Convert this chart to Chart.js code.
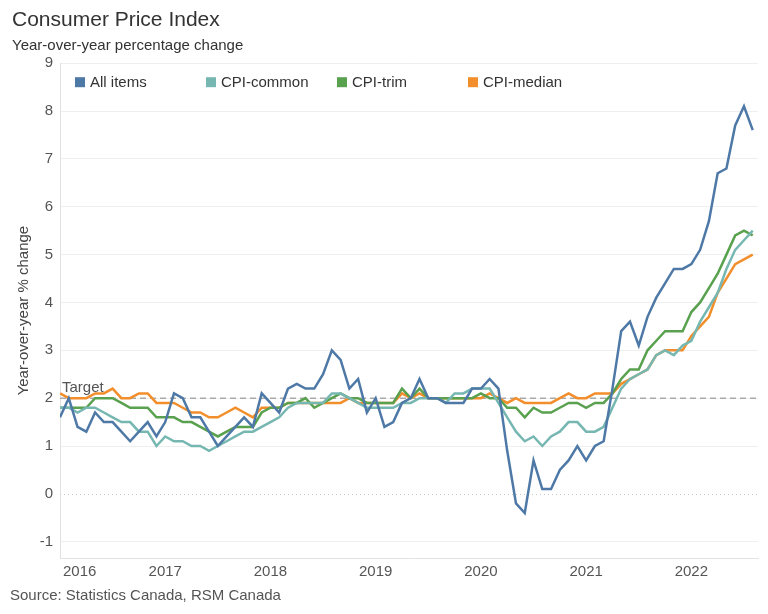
<!DOCTYPE html>
<html>
<head>
<meta charset="utf-8">
<script src="https://cdn.jsdelivr.net/npm/chart.js@4.4.0/dist/chart.umd.min.js"></script>
<style>
  body { margin: 0; background: #fff; }
  #wrap { width: 768px; height: 614px; }
</style>
</head>
<body>
<div id="wrap"><canvas id="cpiChart" width="768" height="614"></canvas></div>
<script>
// monthly, Dec 2015 .. Jul 2022
const startYear = 2015;
const startMonth = 12;
const yearLabels = ['2016', '2017', '2018', '2019', '2020', '2021', '2022'];
const yTicks = [-1, 0, 1, 2, 3, 4, 5, 6, 7, 8, 9];
const targetRate = 2;

const allItems = [1.6,
  2.0, 1.4, 1.3, 1.7, 1.5, 1.5, 1.3, 1.1, 1.3, 1.5, 1.2, 1.5,
  2.1, 2.0, 1.6, 1.6, 1.3, 1.0, 1.2, 1.4, 1.6, 1.4, 2.1, 1.9,
  1.7, 2.2, 2.3, 2.2, 2.2, 2.5, 3.0, 2.8, 2.2, 2.4, 1.7, 2.0,
  1.4, 1.5, 1.9, 2.0, 2.4, 2.0, 2.0, 1.9, 1.9, 1.9, 2.2, 2.2,
  2.4, 2.2, 0.9, -0.2, -0.4, 0.7, 0.1, 0.1, 0.5, 0.7, 1.0, 0.7,
  1.0, 1.1, 2.2, 3.4, 3.6, 3.1, 3.7, 4.1, 4.4, 4.7, 4.7, 4.8,
  5.1, 5.7, 6.7, 6.8, 7.7, 8.1, 7.6];

const cpiCommon = [1.8,
  1.8, 1.7, 1.8, 1.8, 1.7, 1.6, 1.5, 1.5, 1.3, 1.3, 1.0, 1.2,
  1.1, 1.1, 1.0, 1.0, 0.9, 1.0, 1.1, 1.2, 1.3, 1.3, 1.4, 1.5,
  1.6, 1.8, 1.9, 1.9, 1.9, 1.9, 2.1, 2.1, 2.0, 1.9, 1.8, 1.8,
  1.8, 1.8, 1.9, 1.9, 2.0, 2.0, 2.0, 1.9, 2.1, 2.1, 2.2, 2.2,
  2.2, 1.9, 1.6, 1.3, 1.1, 1.2, 1.0, 1.2, 1.3, 1.5, 1.5, 1.3,
  1.3, 1.4, 1.8, 2.2, 2.4, 2.5, 2.6, 2.9, 3.0, 2.9, 3.1, 3.2,
  3.6, 3.9, 4.2, 4.7, 5.1, 5.3, 5.5];

const cpiTrim = [1.8,
  1.8, 1.8, 1.8, 2.0, 2.0, 2.0, 1.9, 1.8, 1.8, 1.8, 1.6, 1.6,
  1.6, 1.5, 1.5, 1.4, 1.3, 1.2, 1.3, 1.4, 1.4, 1.4, 1.7, 1.8,
  1.8, 1.9, 1.9, 2.0, 1.8, 1.9, 2.0, 2.1, 2.0, 2.0, 1.9, 1.9,
  1.9, 1.9, 2.2, 2.0, 2.2, 2.0, 2.0, 2.0, 2.0, 2.0, 2.0, 2.1,
  2.0, 2.0, 1.8, 1.8, 1.6, 1.8, 1.7, 1.7, 1.8, 1.9, 1.9, 1.8,
  1.9, 1.9, 2.1, 2.4, 2.6, 2.6, 3.0, 3.2, 3.4, 3.4, 3.4, 3.8,
  4.0, 4.3, 4.6, 5.0, 5.4, 5.5, 5.4];

const cpiMedian = [2.1,
  2.0, 2.0, 2.0, 2.1, 2.1, 2.2, 2.0, 2.0, 2.1, 2.1, 1.9, 1.9,
  1.9, 1.8, 1.7, 1.7, 1.6, 1.6, 1.7, 1.8, 1.7, 1.6, 1.8, 1.8,
  1.8, 1.9, 1.9, 1.9, 1.9, 1.9, 1.9, 1.9, 2.0, 1.9, 1.9, 1.9,
  1.9, 1.9, 2.1, 2.0, 2.1, 2.0, 2.0, 2.0, 2.0, 2.0, 2.0, 2.0,
  2.1, 2.0, 1.9, 2.0, 1.9, 1.9, 1.9, 1.9, 2.0, 2.1, 2.0, 2.0,
  2.1, 2.1, 2.1, 2.3, 2.4, 2.5, 2.6, 2.9, 3.0, 3.0, 3.0, 3.3,
  3.5, 3.7, 4.2, 4.5, 4.8, 4.9, 5.0];

const seriesNames = ['All items', 'CPI-common', 'CPI-trim', 'CPI-median'];
const seriesColors = ['#4e79a7', '#76b7b2', '#59a14f', '#f28e2b'];

// month index 0 = Dec 2015 (plotted at month end), year labels sit on January 1st
const months = allItems.map((v, i) => {
  const m = (startMonth - 1 + i) % 12 + 1;
  const y = startYear + Math.floor((startMonth - 1 + i) / 12);
  return y + '-' + String(m).padStart(2, '0');
});
const monthIndex = months.map((m, i) => i);
const yearTickValues = yearLabels.map((y, i) => i * 12);

const FONT = "'Liberation Sans', Arial, sans-serif";

const extras = {
  id: 'extras',
  beforeDatasetsDraw(chart) {
    const { ctx, chartArea } = chart;
    const ys = chart.scales.y;
    ctx.save();
    // dotted zero line
    const y0 = Math.round(ys.getPixelForValue(0)) + 0.5;
    ctx.strokeStyle = '#c8c8c8';
    ctx.lineWidth = 1;
    ctx.setLineDash([1, 3]);
    ctx.beginPath();
    ctx.moveTo(chartArea.left, y0);
    ctx.lineTo(chartArea.right, y0);
    ctx.stroke();
    // target line
    const yt = ys.getPixelForValue(targetRate);
    ctx.strokeStyle = '#a9a9a9';
    ctx.lineWidth = 1.5;
    ctx.setLineDash([6, 4]);
    ctx.beginPath();
    ctx.moveTo(chartArea.left, yt);
    ctx.lineTo(chartArea.right, yt);
    ctx.stroke();
    ctx.setLineDash([]);
    ctx.fillStyle = '#555';
    ctx.font = '15px ' + FONT;
    ctx.textAlign = 'left';
    ctx.textBaseline = 'middle';
    ctx.fillText('Target', chartArea.left + 2, yt - 10);
    ctx.restore();
  },
  afterDraw(chart) {
    const { ctx, chartArea } = chart;
    const xs = chart.scales.x;
    ctx.save();
    ctx.font = '15px ' + FONT;
    ctx.textBaseline = 'middle';
    // legend
    chart.data.datasets.forEach((ds, i) => {
      const x = chartArea.left + 15 + i * 131;
      const y = chartArea.top + 19;
      ctx.fillStyle = ds.borderColor;
      ctx.fillRect(x, y - 5, 10, 10);
      ctx.fillStyle = '#333';
      ctx.textAlign = 'left';
      ctx.fillText(ds.label, x + 15, y + 1);
    });
    // x axis year labels, first one kept inside the plot
    ctx.fillStyle = '#555';
    ctx.textAlign = 'center';
    yearTickValues.forEach((v, i) => {
      const w = ctx.measureText(yearLabels[i]).width;
      const px = Math.max(xs.getPixelForValue(v), chartArea.left + w / 2 + 3);
      ctx.fillText(yearLabels[i], px, chartArea.bottom + 14);
    });
    // source
    ctx.textAlign = 'left';
    ctx.fillText('Source: Statistics Canada, RSM Canada', 10, 596);
    ctx.restore();
  }
};

const series = [allItems, cpiCommon, cpiTrim, cpiMedian];

new Chart(document.getElementById('cpiChart'), {
  type: 'line',
  data: {
    labels: monthIndex,
    datasets: series.map((data, i) => ({
      label: seriesNames[i],
      data: data,
      borderColor: seriesColors[i],
      backgroundColor: seriesColors[i],
      borderWidth: 2.5,
      pointRadius: 0,
      tension: 0,
      fill: false
    }))
  },
  options: {
    responsive: false,
    animation: false,
    layout: { padding: { left: 12, right: 10, top: 0, bottom: 32 } },
    plugins: {
      legend: { display: false },
      tooltip: { enabled: false },
      title: {
        display: true,
        text: 'Consumer Price Index',
        align: 'start',
        color: '#333',
        font: { family: FONT, size: 21, weight: 'normal' },
        padding: { top: 8, bottom: 0 }
      },
      subtitle: {
        display: true,
        text: 'Year-over-year percentage change',
        align: 'start',
        color: '#333',
        font: { family: FONT, size: 15 },
        padding: { top: 4, bottom: 8 }
      }
    },
    scales: {
      x: {
        type: 'linear',
        min: 0,
        max: 79.6,
        grid: { display: false },
        border: { color: '#e2e2e2' },
        ticks: { display: false },
        afterBuildTicks: s => { s.ticks = yearTickValues.map(v => ({ value: v })); },
        afterFit: s => { s.height = 24; }
      },
      y: {
        min: -1.34,
        max: 9,
        afterBuildTicks: s => { s.ticks = yTicks.map(v => ({ value: v })); },
        afterFit: s => { s.width = 48; },
        grid: {
          drawTicks: false,
          color: c => (c.tick && c.tick.value === 0) ? 'rgba(0,0,0,0)' : '#efefef'
        },
        border: { color: '#e2e2e2' },
        ticks: {
          padding: 7,
          color: '#555',
          font: { family: FONT, size: 15 },
          callback: v => String(v)
        },
        title: {
          display: true,
          text: 'Year-over-year % change',
          color: '#444',
          font: { family: FONT, size: 15 },
          padding: { top: 3, bottom: 0 }
        }
      }
    }
  },
  plugins: [extras]
});
</script>
</body>
</html>
